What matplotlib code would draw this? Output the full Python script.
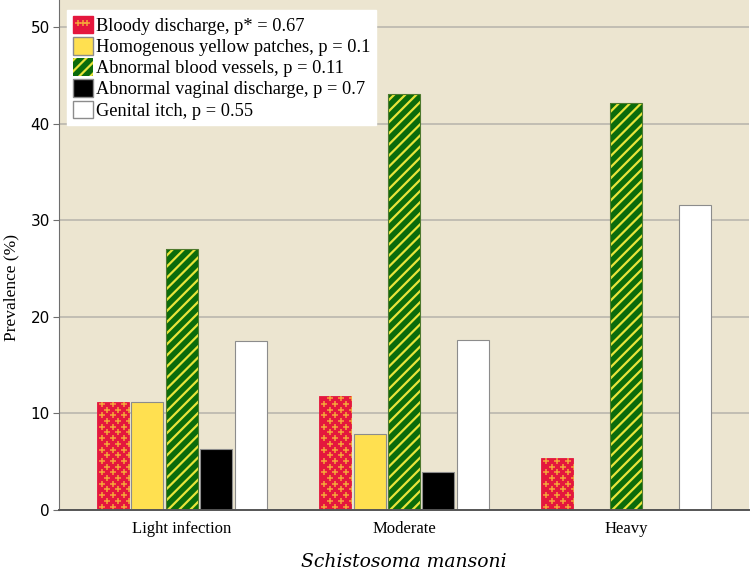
import numpy as np
import matplotlib
matplotlib.use("Agg")
import matplotlib.pyplot as plt
from matplotlib.patches import Patch
from matplotlib.lines import Line2D

groups = ["Light infection", "Moderate", "Heavy"]
series = ["Bloody discharge, p* = 0.67",
          "Homogenous yellow patches, p = 0.1",
          "Abnormal blood vessels, p = 0.11",
          "Abnormal vaginal discharge, p = 0.7",
          "Genital itch, p = 0.55"]
bloody = [11.1, 11.8, 5.3]
yellow_patches = [11.1, 7.8, 0.0]
blood_vessels = [27.0, 43.1, 42.1]
vaginal = [6.3, 3.9, 0.0]
itch = [17.5, 17.6, 31.6]
y_ticks = [0, 10, 20, 30, 40, 50]

BG = "#ECE5D0"
RED = "#E4173D"
ORANGE = "#F4A53A"
YELLOW = "#FFE050"
GREEN = "#0B6B0B"
STRIPE = "#E8E43A"
EDGE = "#8C8C8C"

plt.rcParams["hatch.linewidth"] = 1.6
serif = ["Liberation Serif", "DejaVu Serif"]

fig = plt.figure(figsize=(7.5, 5.75), dpi=100)
ax = fig.add_axes([0.0793, 0.1139, 0.9187, 0.8861])
ax.set_facecolor(BG)
ax.set_xlim(-0.55, 2.55)
ax.set_ylim(0, 52.8)
ax.set_axisbelow(True)
ax.yaxis.grid(True, color="#BEBAB0", lw=1.3)

x = np.arange(len(groups))
w = 0.144
step = 0.155

# red bars with orange plus pattern
reds = ax.bar(x - 2 * step, bloody, w, color=RED, edgecolor=RED, lw=0.6)
px_x = 1 / 222.25  # data units per pixel
px_y = 1 / 9.65
for b in reds:
    x0, h = b.get_x(), b.get_height()
    rows = np.arange(0, h + 1, 5.7 * px_y)
    for i, yy in enumerate(rows):
        off = 0 if i % 2 == 0 else 5.5 * px_x
        xs = np.arange(x0 + 5 * px_x + off, x0 + w + 6 * px_x, 11 * px_x)
        ln, = ax.plot(xs, np.full_like(xs, yy + 3 * px_y), ls="none", marker="+",
                      ms=4.5, mew=1.1, color=ORANGE)
        ln.set_clip_path(b)

ax.bar(x - step, yellow_patches, w, color=YELLOW, edgecolor=EDGE, lw=0.8)
ax.bar(x, blood_vessels, w, color=GREEN, edgecolor=STRIPE, hatch="///", lw=0)
ax.bar(x, blood_vessels, w, color="none", edgecolor="#4F7A2E", lw=0.8)
ax.bar(x + step, vaginal, w, color="black", edgecolor=EDGE, lw=0.8)
ax.bar(x + 2 * step, itch, w, color="white", edgecolor=EDGE, lw=0.8)

for side in ["top", "right"]:
    ax.spines[side].set_visible(False)
ax.spines["left"].set_color("#6E6E6E")
ax.spines["bottom"].set_color("#555555")
ax.spines["bottom"].set_linewidth(1.4)

ax.set_yticks(y_ticks)
ax.set_yticklabels([str(t) for t in y_ticks],
                   family=["Liberation Sans Narrow", "DejaVu Sans"], fontsize=11)
ax.tick_params(axis="y", length=4, color="#6E6E6E", pad=3)
ax.set_xticks(x)
ax.set_xticklabels(groups, family=serif, fontsize=12)
ax.tick_params(axis="x", length=0, pad=8)

ax.set_ylabel("Prevalence (%)", family=serif, fontsize=12.5)
ax.yaxis.set_label_coords(-0.058, 0.435)
ax.set_xlabel("Schistosoma mansoni", family="DejaVu Serif", style="italic",
              fontsize=13.5, labelpad=12)

handles = [
    (Patch(facecolor=RED, edgecolor=RED),
     Line2D([], [], ls="none", marker="+", ms=4.5, mew=1.1, color=ORANGE)),
    Patch(facecolor=YELLOW, edgecolor=EDGE),
    Patch(facecolor=GREEN, edgecolor=STRIPE, hatch="///", lw=0),
    Patch(facecolor="black", edgecolor=EDGE),
    Patch(facecolor="white", edgecolor=EDGE),
]
leg = ax.legend(handles, series, loc="upper left", bbox_to_anchor=(0.011, 0.98),
                borderaxespad=0, frameon=True, fancybox=False, framealpha=1,
                facecolor="white", edgecolor="white", prop={"family": serif, "size": 13.2},
                handlelength=1.1, handleheight=1.1, handletextpad=0.2, numpoints=3,
                labelspacing=0.12, borderpad=0.3)

fig.savefig("out.png", dpi=100, facecolor="white")
